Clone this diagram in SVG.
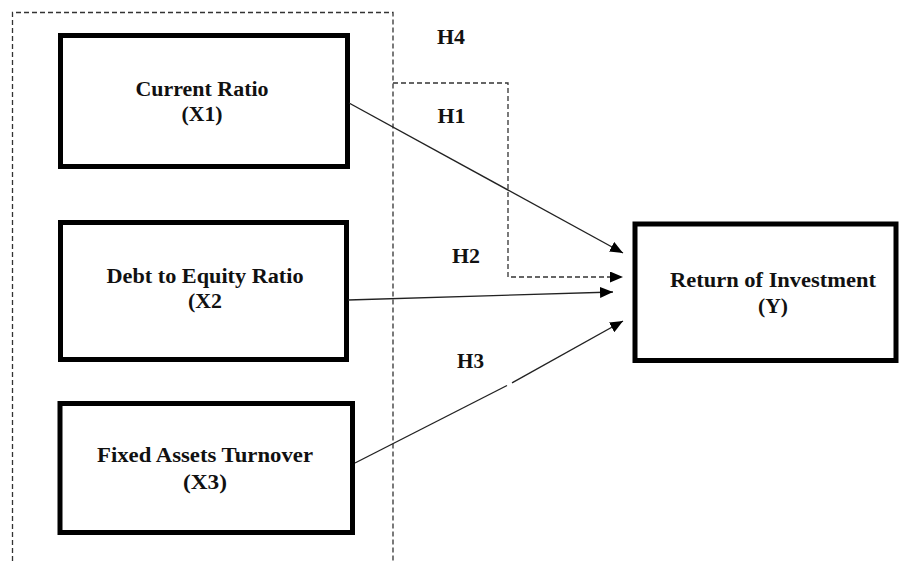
<svg xmlns="http://www.w3.org/2000/svg" width="899" height="561" viewBox="0 0 899 561">
<style>
.box{fill:#fff;stroke:#000;stroke-width:5}
.t{font-family:"Liberation Serif","Times New Roman",serif;font-weight:bold;font-size:20px;fill:#111;text-anchor:middle}
.dash{fill:none;stroke:#333;stroke-width:1.3;stroke-dasharray:5,3}
.ln{fill:none;stroke:#222;stroke-width:1.4}
</style>
<defs>
<marker id="ah" markerUnits="userSpaceOnUse" markerWidth="14" markerHeight="12" refX="13" refY="5.5" orient="auto">
<path d="M0,0 L13,5.5 L0,11 z" fill="#000"/>
</marker>
</defs>
<g id="group-box">
<path class="dash" d="M12.5 561 V12.5 H393 V561"/>
</g>
<g id="x1">
<rect class="box" x="60.5" y="35.5" width="287" height="131"/>
<text class="t" x="202" y="96" textLength="133" lengthAdjust="spacingAndGlyphs">Current Ratio</text>
<text class="t" x="202" y="121" textLength="41" lengthAdjust="spacingAndGlyphs">(X1)</text>
</g>
<g id="x2">
<rect class="box" x="60.5" y="222.5" width="286" height="137"/>
<text class="t" x="205" y="283" textLength="197" lengthAdjust="spacingAndGlyphs">Debt to Equity Ratio</text>
<text class="t" x="205" y="308" textLength="34" lengthAdjust="spacingAndGlyphs">(X2</text>
</g>
<g id="x3">
<rect class="box" x="60" y="403.5" width="292.5" height="129"/>
<text class="t" x="205" y="462" textLength="216" lengthAdjust="spacingAndGlyphs">Fixed Assets Turnover</text>
<text class="t" x="205" y="489" textLength="44" lengthAdjust="spacingAndGlyphs">(X3)</text>
</g>
<g id="y">
<rect class="box" x="635" y="224" width="261" height="136.5"/>
<text class="t" x="773" y="287" textLength="206" lengthAdjust="spacingAndGlyphs">Return of Investment</text>
<text class="t" x="773" y="313" textLength="30" lengthAdjust="spacingAndGlyphs">(Y)</text>
</g>
<g id="connectors">
<path class="dash" d="M393 83 H508 V277 H623" marker-end="url(#ah)"/>
<path class="ln" d="M349 103 L623 253" marker-end="url(#ah)"/>
<path class="ln" d="M348 300 L613 292" marker-end="url(#ah)"/>
<path class="ln" d="M355 463 L507 385.5"/>
<path class="ln" d="M512 382.8 L623 321" marker-end="url(#ah)"/>
</g>
<g id="labels">
<text class="t" x="451" y="44" textLength="28" lengthAdjust="spacingAndGlyphs">H4</text>
<text class="t" x="451.5" y="123" textLength="28" lengthAdjust="spacingAndGlyphs">H1</text>
<text class="t" x="466" y="263" textLength="28" lengthAdjust="spacingAndGlyphs">H2</text>
<text class="t" x="470.5" y="368" textLength="27" lengthAdjust="spacingAndGlyphs">H3</text>
</g>
</svg>
